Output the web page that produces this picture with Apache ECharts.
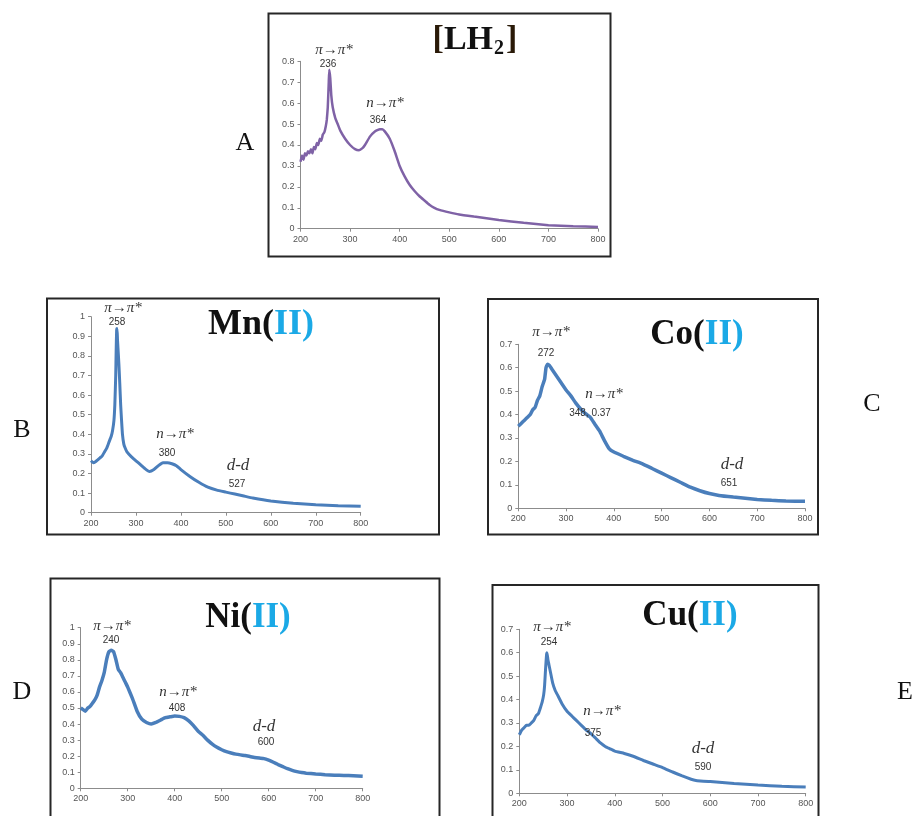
<!DOCTYPE html>
<html><head><meta charset="utf-8">
<script src="https://cdn.jsdelivr.net/npm/echarts@6/dist/echarts.min.js"></script>
<style>html,body{margin:0;padding:0;background:#fff}#c{width:918px;height:816px}</style>
</head><body><div id="c"></div>
<script>
// ---- data ----
var waveA = [200,203,206,209,212,215,218,221,224,227,230,233,236,239,242,245,248,251,253,255,257,258,260,262,265,270,275,280,290,300,310,318,325,330,340,350,360,365,370,380,390,400,410,420,430,440,450,460,470,480,500,520,550,600,650,700,750,800];
var absA = [0.32,0.35,0.33,0.36,0.35,0.37,0.36,0.38,0.36,0.39,0.38,0.41,0.40,0.43,0.42,0.45,0.46,0.49,0.52,0.58,0.70,0.76,0.72,0.64,0.58,0.53,0.50,0.47,0.43,0.40,0.38,0.375,0.385,0.40,0.44,0.465,0.475,0.475,0.465,0.43,0.37,0.30,0.25,0.21,0.18,0.155,0.135,0.115,0.10,0.09,0.078,0.068,0.058,0.042,0.028,0.017,0.012,0.008];

var waveB = [200,205,210,215,220,225,230,235,240,245,248,251,253,255,256,257,258,259,260,262,264,266,268,270,273,276,280,290,300,310,320,330,340,350,360,370,380,390,400,420,440,460,480,500,520,540,560,600,650,700,750,800];
var absB = [0.265,0.255,0.26,0.27,0.28,0.29,0.31,0.33,0.36,0.39,0.42,0.47,0.55,0.70,0.83,0.93,0.94,0.88,0.84,0.76,0.66,0.55,0.47,0.40,0.35,0.33,0.31,0.285,0.265,0.245,0.225,0.21,0.22,0.24,0.255,0.255,0.25,0.24,0.22,0.185,0.155,0.13,0.115,0.105,0.095,0.085,0.075,0.06,0.048,0.04,0.036,0.033];

var waveC = [200,205,210,215,220,225,230,235,240,245,250,255,258,261,265,270,280,290,300,310,320,330,340,350,360,370,380,390,400,420,440,460,480,500,520,540,560,580,600,620,650,680,700,730,760,800];
var absC = [0.35,0.36,0.37,0.38,0.39,0.40,0.42,0.43,0.46,0.48,0.52,0.55,0.60,0.615,0.61,0.595,0.565,0.535,0.505,0.48,0.45,0.425,0.405,0.39,0.36,0.33,0.29,0.255,0.24,0.222,0.205,0.19,0.17,0.15,0.13,0.11,0.09,0.075,0.063,0.055,0.048,0.042,0.038,0.034,0.031,0.03];

var waveD = [200,205,210,215,220,225,230,235,240,245,250,255,260,265,270,275,280,285,290,295,300,310,320,330,340,350,360,370,380,390,400,410,420,430,440,450,460,470,480,490,500,510,520,530,540,550,560,570,580,590,600,610,620,630,640,650,660,670,680,700,720,740,760,780,800];
var absD = [0.50,0.49,0.48,0.50,0.51,0.53,0.55,0.58,0.63,0.67,0.72,0.80,0.85,0.86,0.85,0.80,0.74,0.72,0.69,0.66,0.63,0.56,0.48,0.43,0.41,0.40,0.41,0.425,0.44,0.445,0.45,0.448,0.44,0.42,0.39,0.355,0.33,0.30,0.275,0.255,0.24,0.228,0.22,0.213,0.208,0.204,0.198,0.192,0.188,0.185,0.175,0.162,0.148,0.135,0.122,0.112,0.104,0.098,0.094,0.089,0.085,0.082,0.08,0.078,0.075];

var waveE = [200,205,210,215,220,225,230,235,240,245,248,251,253,255,257,258,260,262,265,270,275,280,290,300,310,320,330,340,350,360,370,380,390,400,420,440,460,480,500,520,540,560,570,600,650,700,750,800];
var absE = [0.25,0.27,0.28,0.29,0.29,0.30,0.31,0.33,0.34,0.37,0.39,0.42,0.46,0.53,0.59,0.60,0.57,0.55,0.52,0.47,0.44,0.42,0.38,0.35,0.33,0.31,0.29,0.27,0.255,0.235,0.215,0.20,0.19,0.18,0.17,0.157,0.14,0.125,0.11,0.092,0.075,0.06,0.055,0.05,0.042,0.035,0.03,0.027];

var xTicks = [200,300,400,500,600,700,800];
var yMaxes = [0.8, 1, 0.7, 1, 0.7];
var titles = ['[LH2]','Mn(II)','Co(II)','Ni(II)','Cu(II)'];
var panelLetters = ['A','B','C','D','E'];
var annPeak1 = ['236','258','272','240','254'];
var annPeak2 = ['364','380','348, 0.37','408','375'];
var annDD = [null,'527','651','600','590'];

// ---- layout (pixels) ----
var grids = [
  {left:300.5, top:61.3, width:297.5, height:167.4},
  {left:91, top:316.7, width:269.7, height:196},
  {left:518.3, top:344.3, width:286.7, height:164},
  {left:80.7, top:627.7, width:282, height:160.6},
  {left:519.3, top:629.3, width:286.4, height:164}
];
var frames = [
  [268.5,13.5,342,243],[47,298.5,392,236],[488,299,330,235.5],[50.5,578.5,389,250],[492.5,585,326,250]
];
var letterPos = [[245,143],[22,430],[872,404],[22,692],[905,692]];
var titlePos = [[475,40],[261,325],[697,335],[248,618],[690,616]];
var annPos = [
  {p1:[334,50], n1:[328,64], p2:[385,103], n2:[378,120]},
  {p1:[123,308], n1:[117,322], p2:[175,434], n2:[167,453], d:[238,466], dn:[237,484]},
  {p1:[551,332], n1:[546,353], p2:[604,394], n2:[590,413], d:[732,465], dn:[729,483]},
  {p1:[112,626], n1:[111,640], p2:[178,692], n2:[177,708], d:[264,727], dn:[266,742]},
  {p1:[552,627], n1:[549,642], p2:[602,711], n2:[593,733], d:[703,749], dn:[703,767]}
];

var waves = [waveA,waveB,waveC,waveD,waveE];
var abss = [absA,absB,absC,absD,absE];
var colors = ['#7f62a6','#4a7ebb','#4a7ebb','#4a7ebb','#4a7ebb'];
var widths = [2.5,3,3.5,3.5,3];
var titleSizes = [34,36,35,35,35];

var chart = echarts.init(document.getElementById('c'));
var option = {backgroundColor:'#fff', animation:false, grid:[], xAxis:[], yAxis:[], series:[], graphic:[]};
var sans = 'Liberation Sans';
var serif = 'Liberation Serif';
for (var i=0;i<5;i++){
  var g = grids[i];
  option.grid.push({left:g.left, top:g.top, width:g.width, height:g.height, containLabel:false});
  option.xAxis.push({type:'value', gridIndex:i, min:200, max:800, interval:100,
    axisLine:{lineStyle:{color:'#8c8c8c'}}, axisTick:{show:true, length:3, lineStyle:{color:'#8c8c8c'}},
    splitLine:{show:false}, axisLabel:{fontSize:9, color:'#555', fontFamily:sans, margin:6}});
  option.yAxis.push({type:'value', gridIndex:i, min:0, max:yMaxes[i], interval:0.1,
    axisLine:{show:true, lineStyle:{color:'#8c8c8c'}}, axisTick:{show:true, length:3, lineStyle:{color:'#8c8c8c'}},
    splitLine:{show:false}, axisLabel:{fontSize:9, color:'#555', fontFamily:sans, margin:6,
      formatter:function(v){return String(Math.round(v*10)/10);}}});
  var d = [];
  for (var k=0;k<waves[i].length;k++) d.push([waves[i][k], abss[i][k]]);
  option.series.push({type:'line', xAxisIndex:i, yAxisIndex:i, data:d, showSymbol:false, smooth:0.12,
    lineStyle:{color:colors[i], width:widths[i]}, itemStyle:{color:colors[i]}});
  var f = frames[i];
  option.graphic.push({type:'rect', shape:{x:f[0], y:f[1], width:f[2], height:f[3]}, style:{fill:'none', stroke:'#262626', lineWidth:2}, z:10});
  option.graphic.push({type:'text', x:letterPos[i][0], y:letterPos[i][1], style:{text:panelLetters[i], font:'26px '+serif, fill:'#111', textAlign:'center', textVerticalAlign:'middle'}});
  // title
  var ts = titleSizes[i];
  var tt;
  if (i===0) {
    tt = {text:'{br|[}{m|LH}{s|2}{br|]}', rich:{br:{fontFamily:serif, fontWeight:'bold', fontSize:ts, fill:'#2a1a08', lineHeight:38}, m:{fontFamily:serif, fontWeight:'bold', fontSize:ts, fill:'#111', lineHeight:38}, s:{fontFamily:serif, fontWeight:'bold', fontSize:20, fill:'#111', lineHeight:38, verticalAlign:'bottom', padding:[0,2,0,1]}}};
  } else {
    var name = titles[i].split('(')[0];
    tt = {text:'{m|'+name+'(}{b|II)}', rich:{m:{fontFamily:serif, fontWeight:'bold', fontSize:ts, fill:'#111'}, b:{fontFamily:serif, fontWeight:'bold', fontSize:ts, fill:'#1ba9e6'}}};
  }
  tt.textAlign = 'center'; tt.textVerticalAlign = 'middle';
  option.graphic.push({type:'text', x:titlePos[i][0], y:titlePos[i][1], style:tt, z:20});
  var a = annPos[i];
  var itl = 'italic 15px '+serif;
  var num = '10px '+sans;
  option.graphic.push({type:'text', x:a.p1[0], y:a.p1[1], style:{text:'\u03c0\u2192\u03c0*', font:itl, fill:'#333', textAlign:'center', textVerticalAlign:'middle'}, z:20});
  option.graphic.push({type:'text', x:a.n1[0], y:a.n1[1], style:{text:annPeak1[i], font:num, fill:'#333', textAlign:'center', textVerticalAlign:'middle'}, z:20});
  option.graphic.push({type:'text', x:a.p2[0], y:a.p2[1], style:{text:'n\u2192\u03c0*', font:itl, fill:'#333', textAlign:'center', textVerticalAlign:'middle'}, z:20});
  option.graphic.push({type:'text', x:a.n2[0], y:a.n2[1], style:{text:annPeak2[i], font:num, fill:'#333', textAlign:'center', textVerticalAlign:'middle'}, z:20});
  if (annDD[i]) {
    option.graphic.push({type:'text', x:a.d[0], y:a.d[1], style:{text:'d-d', font:'italic 17px '+serif, fill:'#333', textAlign:'center', textVerticalAlign:'middle'}, z:20});
    option.graphic.push({type:'text', x:a.dn[0], y:a.dn[1], style:{text:annDD[i], font:num, fill:'#333', textAlign:'center', textVerticalAlign:'middle'}, z:20});
  }
}
chart.setOption(option);
</script></body></html>
